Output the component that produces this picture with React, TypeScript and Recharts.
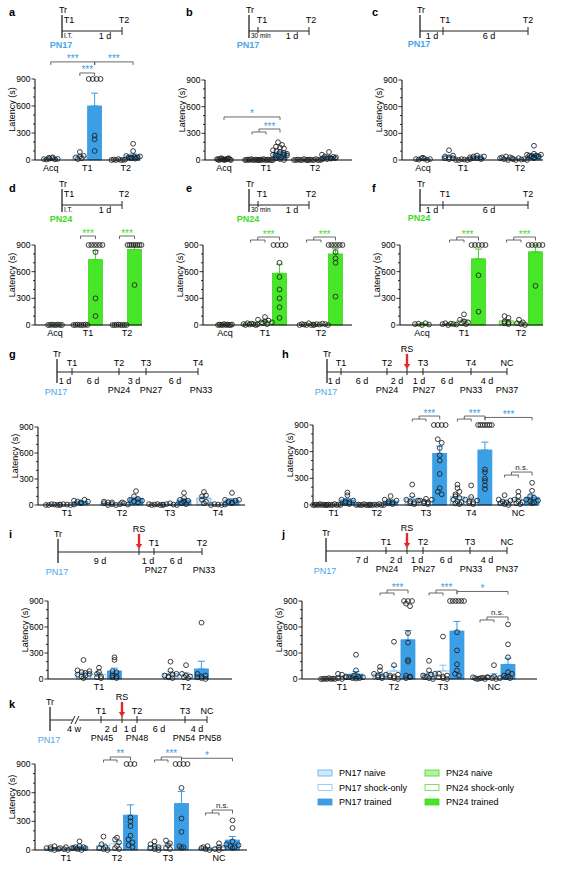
import React from 'react'
import { ComposedChart, Bar, Scatter, XAxis, YAxis, ErrorBar, Cell, ReferenceLine } from 'recharts'

const FONT = '"Liberation Sans", Arial, sans-serif'

// ---- data: latency (s) per animal; rows follow the test order ----
const aTests = ['Acq', 'T1', 'T2']
const aNaive = [null, null, null]
const aShock = [null, [30, 90, 40, 10, 20, 45], [0, 5, 0, 10, 0, 0, 5]]
const aTrained = [[10, 25, 5, 15, 30, 20, 8, 12], [900, 900, 900, 900, 270, 230, 100], [180, 100, 45, 30, 20, 25, 35, 30, 15, 40]]

const bTests = ['Acq', 'T1', 'T2']
const bNaive = [null, [0, 0, 5, 0, 10, 0, 0, 5, 0, 0], [0, 0, 5, 0, 0, 10, 0, 0]]
const bShock = [null, [0, 5, 0, 10, 0, 0, 5, 0, 0, 0], [0, 5, 0, 0, 10, 0, 0, 5]]
const bTrained = [[10, 5, 0, 15, 20, 5, 10, 0, 5, 10, 15, 20, 5, 0], [200, 170, 150, 140, 130, 110, 100, 90, 80, 70, 60, 50, 40, 30, 20, 10, 0, 60, 50], [90, 60, 40, 30, 20, 10, 25, 35, 15, 20, 30]]

const cTests = ['Acq', 'T1', 'T2']
const cNaive = [null, [20, 110, 40, 30, 10, 20, 50], [30, 20, 40, 10, 30, 0, 20]]
const cShock = [null, [0, 0, 10, 5, 0, 10], [10, 0, 20, 5, 10, 0]]
const cTrained = [[10, 5, 20, 15, 0, 10, 25], [20, 30, 40, 50, 20, 30, 10, 40], [160, 60, 50, 40, 30, 50, 40, 60, 70, 20]]

const dTests = ['Acq', 'T1', 'T2']
const dNaive = [null, null, null]
const dShock = [null, [0, 0, 5, 0, 0, 0, 5, 0], [0, 0, 0, 5, 0, 0, 0, 0]]
const dTrained = [[0, 0, 5, 0, 0, 5, 0, 0], [900, 900, 900, 900, 900, 900, 820, 300, 100], [900, 900, 900, 900, 900, 900, 900, 900, 450]]

const eTests = ['Acq', 'T1', 'T2']
const eNaive = [null, [10, 0, 20, 5, 15, 10, 0, 5], [0, 10, 5, 0, 20, 0, 5]]
const eShock = [null, [90, 60, 30, 20, 40, 10, 50, 30], [0, 10, 5, 15, 10, 0]]
const eTrained = [[0, 5, 0, 0, 10, 0, 5, 0, 0, 5], [900, 900, 900, 900, 700, 540, 400, 300, 200, 80], [900, 900, 900, 900, 900, 900, 820, 750, 700, 320]]

const fTests = ['Acq', 'T1', 'T2']
const fNaive = [null, [10, 20, 0, 15, 10, 5], [100, 80, 40, 20, 30, 10]]
const fShock = [null, [120, 60, 40, 30, 20, 10], [60, 20, 10, 30, 0]]
const fTrained = [[10, 15, 0, 20, 5], [900, 900, 900, 900, 900, 560, 150], [900, 900, 900, 900, 900, 440]]

const gTests = ['T1', 'T2', 'T3', 'T4']
const gNaive = [[0, 0, 10, 5, 0, 5], [40, 30, 20, 0, 10, 30], [10, 0, 5, 10, 0, 5], [150, 100, 60, 40, 20, 110]]
const gShock = [[0, 10, 5, 0, 5], [30, 0, 10, 20, 5], [0, 10, 20, 5, 0], [0, 10, 5, 0, 5]]
const gTrained = [[50, 40, 30, 60, 20, 40], [160, 100, 60, 40, 30, 50, 70], [140, 80, 60, 40, 20, 10, 50], [140, 60, 40, 30, 50, 20, 60]]

const hTests = ['T1', 'T2', 'T3', 'T4', 'NC']
const hNaive = [[0, 0, 5, 0, 10, 0, 5, 0, 0], [0, 5, 0, 0, 10, 0, 0, 5], [230, 110, 60, 40, 20, 10, 30, 50], [230, 190, 120, 100, 80, 60, 40, 30, 20, 10, 150], [110, 60, 40, 20, 10, 30, 50, 0]]
const hShock = [[0, 5, 0, 0, 10, 0, 5, 0], [0, 0, 5, 0, 10, 0, 0], [70, 50, 40, 30, 20, 10, 60], [220, 90, 60, 40, 30, 20, 10, 50], [150, 100, 60, 40, 20, 10, 30]]
const hTrained = [[140, 110, 60, 40, 20, 30, 50, 10], [100, 60, 40, 20, 30, 10, 50], [900, 900, 900, 900, 740, 700, 640, 560, 500, 350, 190, 150, 120], [900, 900, 900, 900, 900, 900, 900, 400, 370, 300, 270, 220, 180], [250, 160, 100, 80, 60, 40, 30, 20, 50]]

const iTests = ['T1', 'T2']
const iNaive = [[220, 100, 80, 70, 50, 30, 10, 40, 60, 90], [200, 100, 40, 30, 20, 10, 50, 60]]
const iShock = [[130, 80, 60, 20, 10, 30], [160, 60, 40, 30, 20, 10]]
const iTrained = [[250, 220, 90, 80, 40, 20, 10, 30], [650, 60, 20, 10, 0, 30, 40]]

const jTests = ['T1', 'T2', 'T3', 'NC']
const jNaive = [[0, 0, 5, 0, 10, 0, 5, 0], [140, 100, 60, 40, 30, 20, 10, 50], [210, 100, 40, 30, 20, 10, 0, 50, 60], [20, 10, 0, 5, 10, 15, 0, 20]]
const jShock = [[60, 50, 30, 10, 0, 20], [430, 160, 40, 30, 20, 10, 0, 50], [490, 60, 30, 20, 10, 0, 40], [160, 20, 10, 0, 30, 10]]
const jTrained = [[280, 100, 40, 20, 10, 5, 10, 20, 30], [900, 900, 900, 870, 840, 530, 420, 220, 200, 40, 30, 10, 20], [900, 900, 900, 900, 900, 900, 540, 330, 170, 100, 60, 40], [630, 400, 250, 80, 40, 20, 10, 30, 60]]

const kTests = ['T1', 'T2', 'T3', 'NC']
const kNaive = [[30, 20, 10, 0, 40, 10], [140, 60, 30, 20, 10, 0], [90, 60, 40, 20, 10, 0, 30], [30, 20, 10, 0, 40]]
const kShock = [[30, 20, 10, 0, 20], [130, 110, 80, 40, 20, 10], [100, 70, 50, 20, 10], [70, 30, 10, 0, 20]]
const kTrained = [[90, 30, 20, 10, 0, 40, 30, 20], [900, 900, 900, 340, 300, 250, 150, 110, 80, 50, 30], [900, 900, 900, 900, 650, 330, 190, 40, 20, 30], [310, 230, 90, 60, 40, 30, 20, 50]]

const Y_TICKS = [0, 100, 200, 300, 400, 500, 600, 700, 800, 900]

type Kind = 'naive' | 'shock' | 'trained'
type Grp = (number[] | null)[]
type Ref = [number, Kind]
interface Br { a: Ref; b?: Ref; c: Ref; y: number; text: string }
interface PanelDef {
  tests: string[]; naive: Grp; shock: Grp; trained: Grp
  axisX: number; len: number; y900: number; y0: number; centers: number[]; sp: number
  green?: boolean; brackets?: Br[]
}

const KINDS: Kind[] = ['naive', 'shock', 'trained']
const BAR_W = 14

const PAL = {
  blue: { trained: ['#3c9fe6', '#3a9ae2'], naive: ['#cfe8fb', '#5eb0ee'], shock: ['#ffffff', '#86c6f3'], star: '#3a9de6', errL: '#86c6f3' },
  green: { trained: ['#48e628', '#3fd420'], naive: ['#b2f59c', '#4cd42c'], shock: ['#ffffff', '#62d646'], star: '#3ddc1a', errL: '#62d646' },
}

const panels: PanelDef[] = [
  { tests: aTests, naive: aNaive, shock: aShock, trained: aTrained, axisX: 35, len: 105, y900: 79, y0: 160, centers: [16, 53, 92], sp: 15,
    brackets: [
      { a: [0, 'trained'], c: [1, 'trained'], y: 1090, text: '***' },
      { a: [1, 'trained'], c: [2, 'trained'], y: 1090, text: '***' },
      { a: [1, 'shock'], c: [1, 'trained'], y: 967, text: '***' },
    ] },
  { tests: bTests, naive: bNaive, shock: bShock, trained: bTrained, axisX: 205, len: 147, y900: 80, y0: 160, centers: [19, 61, 110], sp: 14,
    brackets: [
      { a: [0, 'trained'], c: [1, 'trained'], y: 484, text: '*' },
      { a: [1, 'naive'], b: [1, 'shock'], c: [1, 'trained'], y: 315, text: '***' },
    ] },
  { tests: cTests, naive: cNaive, shock: cShock, trained: cTrained, axisX: 402, len: 141, y900: 80, y0: 160, centers: [21, 61, 118], sp: 14 },
  { tests: dTests, naive: dNaive, shock: dShock, trained: dTrained, axisX: 35, len: 107, y900: 245, y0: 325, centers: [20, 53, 92], sp: 15, green: true,
    brackets: [
      { a: [1, 'shock'], c: [1, 'trained'], y: 1001, text: '***' },
      { a: [2, 'shock'], c: [2, 'trained'], y: 1001, text: '***' },
    ] },
  { tests: eTests, naive: eNaive, shock: eShock, trained: eTrained, axisX: 203, len: 149, y900: 245, y0: 325, centers: [22, 62, 118], sp: 14.5, green: true,
    brackets: [
      { a: [1, 'naive'], b: [1, 'shock'], c: [1, 'trained'], y: 956, text: '***' },
      { a: [2, 'naive'], b: [2, 'shock'], c: [2, 'trained'], y: 956, text: '***' },
    ] },
  { tests: fTests, naive: fNaive, shock: fShock, trained: fTrained, axisX: 400, len: 143, y900: 245, y0: 325, centers: [22, 64, 121], sp: 14.5, green: true,
    brackets: [
      { a: [1, 'naive'], b: [1, 'shock'], c: [1, 'trained'], y: 956, text: '***' },
      { a: [2, 'naive'], b: [2, 'shock'], c: [2, 'trained'], y: 956, text: '***' },
    ] },
  { tests: gTests, naive: gNaive, shock: gShock, trained: gTrained, axisX: 38, len: 207, y900: 427, y0: 505, centers: [29, 84, 132, 180], sp: 14 },
  { tests: hTests, naive: hNaive, shock: hShock, trained: hTrained, axisX: 313, len: 225, y900: 425, y0: 505, centers: [21, 65, 115, 161, 209], sp: 14,
    brackets: [
      { a: [2, 'naive'], b: [2, 'shock'], c: [2, 'trained'], y: 967, text: '***' },
      { a: [3, 'naive'], b: [3, 'shock'], c: [3, 'trained'], y: 967, text: '***' },
      { a: [3, 'trained'], c: [4, 'trained'], y: 985, text: '***' },
      { a: [4, 'naive'], b: [4, 'shock'], c: [4, 'trained'], y: 337, text: 'n.s.' },
    ] },
  { tests: iTests, naive: iNaive, shock: iShock, trained: iTrained, axisX: 48, len: 184, y900: 601, y0: 679, centers: [51, 138], sp: 15.5 },
  { tests: jTests, naive: jNaive, shock: jShock, trained: jTrained, axisX: 302, len: 235, y900: 601, y0: 679, centers: [40, 92, 141, 192], sp: 14,
    brackets: [
      { a: [1, 'naive'], b: [1, 'shock'], c: [1, 'trained'], y: 992, text: '***' },
      { a: [2, 'naive'], b: [2, 'shock'], c: [2, 'trained'], y: 992, text: '***' },
      { a: [2, 'trained'], c: [3, 'trained'], y: 1010, text: '*' },
      { a: [3, 'naive'], b: [3, 'shock'], c: [3, 'trained'], y: 681, text: 'n.s.' },
    ] },
  { tests: kTests, naive: kNaive, shock: kShock, trained: kTrained, axisX: 35, len: 212, y900: 764, y0: 850, centers: [31, 82, 133, 184], sp: 13.5,
    brackets: [
      { a: [1, 'naive'], b: [1, 'shock'], c: [1, 'trained'], y: 942, text: '**' },
      { a: [2, 'naive'], b: [2, 'shock'], c: [2, 'trained'], y: 942, text: '***' },
      { a: [2, 'trained'], c: [3, 'trained'], y: 960, text: '*' },
      { a: [3, 'naive'], b: [3, 'shock'], c: [3, 'trained'], y: 387, text: 'n.s.' },
    ] },
]

const mean = (v: number[]) => v.reduce((s, x) => s + x, 0) / v.length
const sem = (v: number[]) => {
  if (v.length < 2) return 0
  const m = mean(v)
  const sd = Math.sqrt(v.reduce((s, x) => s + (x - m) ** 2, 0) / (v.length - 1))
  return sd / Math.sqrt(v.length)
}

function xOf(p: PanelDef, gi: number, k: Kind) {
  const present = KINDS.filter((kk) => p[kk][gi])
  const j = present.indexOf(k)
  return p.centers[gi] + (j - (present.length - 1) / 2) * p.sp
}

// spread points that sit at about the same height side by side
function swarm(vals: number[], cx: number) {
  const bins = new Map<number, number[]>()
  vals.forEach((v, i) => {
    const key = Math.round(v / 45)
    if (!bins.has(key)) bins.set(key, [])
    bins.get(key)!.push(i)
  })
  const out = vals.map((v) => ({ x: cx, y: v }))
  bins.forEach((idx) => {
    const n = idx.length
    const step = n > 1 ? Math.min(4, 14 / (n - 1)) : 0
    idx.forEach((i, j) => { out[i].x = cx + (j - (n - 1) / 2) * step })
  })
  return out
}

const YTick = (props: any) => {
  const { x, y, payload } = props
  const major = payload.value % 300 === 0
  return (
    <g>
      <line x1={x} x2={x - (major ? 3.5 : 2)} y1={y} y2={y} stroke="#000" strokeWidth={0.8} />
      {major && (
        <text x={x - 4.5} y={y} dy="0.35em" textAnchor="end" fontSize={8.5} fontFamily={FONT} fill="#000">{payload.value}</text>
      )}
    </g>
  )
}

const Dot = (props: any) => <circle cx={props.cx} cy={props.cy} r={2.4} fill="none" stroke="#1e1e1e" strokeWidth={0.85} />

// bars on a number axis come back without width, so draw them centred with a fixed width
const BarShape = (props: any) => {
  const { x, y, width, height, fill, stroke } = props
  if (height == null || !isFinite(height)) return null
  const cx = x + (width || 0) / 2
  return <rect x={cx - BAR_W / 2} y={y} width={BAR_W} height={Math.max(height, 0)} fill={fill} stroke={stroke} strokeWidth={0.8} />
}

function BracketMark({ x1, x2, y1, f, nested, text, color }: any) {
  const ns = text === 'n.s.'
  const ln = { fill: 'none', stroke: '#444', strokeWidth: 0.8 }
  const lab = (x: number, y: number) => (
    <text x={x} y={ns ? y - 2 : y + 0.5} textAnchor="middle" fontSize={ns ? 8 : 10} fontFamily={FONT} fill={color}>{text}</text>
  )
  if (!nested) {
    return (
      <g>
        <path d={`M${x1},${y1 + 3} V${y1} H${x2} V${y1 + 3}`} {...ln} />
        {lab((x1 + x2) / 2, y1)}
      </g>
    )
  }
  const xb = x1 + f * (x2 - x1)
  const m = (x1 + xb) / 2
  const yu = y1 - 3
  return (
    <g>
      <path d={`M${x1},${y1 + 2.5} V${y1} H${xb} V${y1 + 2.5}`} {...ln} />
      <path d={`M${m},${y1} V${yu} H${x2} V${y1 + 0.5}`} {...ln} />
      {lab((m + x2) / 2, yu)}
    </g>
  )
}

function Panel({ p }: { p: PanelDef }) {
  const pal = p.green ? PAL.green : PAL.blue
  const bars: any[] = []
  const pts: { x: number; y: number }[] = []
  p.tests.forEach((_, gi) => {
    KINDS.forEach((k) => {
      const vals = p[k][gi]
      if (!vals) return
      const x = xOf(p, gi, k)
      const m = mean(vals)
      const s = sem(vals)
      const e = s >= 1 ? [0, Math.min(s, 900 - m)] : null
      bars.push({ x, mean: m, kind: k, errT: k === 'trained' ? e : null, errL: k !== 'trained' ? e : null })
      pts.push(...swarm(vals, x))
    })
  })
  const H = p.y0 - p.y900
  const MT = 34
  const ML = 30
  const MR = 8
  const XH = 16
  return (
    <div style={{ position: 'absolute', left: p.axisX - ML, top: p.y900 - MT }}>
      <ComposedChart width={ML + p.len + MR} height={MT + H + XH} data={bars} margin={{ top: MT, right: MR, bottom: 0, left: 0 }}>
        <XAxis
          type="number" dataKey="x" domain={[0, p.len]} ticks={p.centers} interval={0}
          tickFormatter={(v: number) => p.tests[p.centers.indexOf(v)] ?? ''}
          height={XH} tickLine={false} tickSize={0} tickMargin={4.5}
          axisLine={{ stroke: '#000', strokeWidth: 1 }}
          tick={{ fontSize: 9, fill: '#000', fontFamily: FONT }}
        />
        <YAxis
          type="number" domain={[0, 900]} ticks={Y_TICKS} interval={0} width={ML}
          tickLine={false} tickSize={0} tickMargin={0} tick={<YTick />}
          axisLine={{ stroke: '#000', strokeWidth: 1 }}
        />
        <Bar dataKey="mean" barSize={BAR_W} isAnimationActive={false} shape={BarShape}>
          {bars.map((b, i) => (
            <Cell key={i} fill={pal[b.kind as Kind][0]} stroke={pal[b.kind as Kind][1]} />
          ))}
          <ErrorBar dataKey="errL" width={3.5} stroke={pal.errL} strokeWidth={1} direction="y" />
          <ErrorBar dataKey="errT" width={3.5} stroke={pal.trained[1]} strokeWidth={1} direction="y" />
        </Bar>
        <Scatter data={pts} dataKey="y" isAnimationActive={false} shape={Dot} />
        {(p.brackets ?? []).map((br, i) => {
          const xa = xOf(p, br.a[0], br.a[1])
          const xc = xOf(p, br.c[0], br.c[1])
          const f = br.b ? (xOf(p, br.b[0], br.b[1]) - xa) / (xc - xa) : 0
          const color = br.text === 'n.s.' ? '#222' : pal.star
          return (
            <ReferenceLine
              key={i}
              segment={[{ x: xa, y: br.y }, { x: xc, y: br.y }]}
              ifOverflow="visible"
              shape={(s: any) => <BracketMark {...s} f={f} nested={!!br.b} text={br.text} color={color} />}
            />
          )
        })}
      </ComposedChart>
    </div>
  )
}

// ---- annotation helpers (timelines, letters, legend) ----
const BLUE_TXT = '#47a6ec'
const GREEN_TXT = '#3ddc1a'

function Tx({ x, y, t, a = 'middle', s = 9, fill = '#000', w = 400 }: any) {
  return <text x={x} y={y} textAnchor={a} fontSize={s} fill={fill} fontWeight={w} fontFamily={FONT}>{t}</text>
}
function Ln({ x1, y1, x2, y2, w = 1 }: any) {
  return <line x1={x1} y1={y1} x2={x2} y2={y2} stroke="#222" strokeWidth={w} />
}
function Arrow({ x, y1, y2 }: any) {
  return (
    <g>
      <line x1={x} x2={x} y1={y1} y2={y2 - 4} stroke="#e5262b" strokeWidth={2.4} />
      <polygon points={`${x - 3.2},${y2 - 5} ${x + 3.2},${y2 - 5} ${x},${y2}`} fill="#e5262b" />
    </g>
  )
}

// short timelines of panels a-f
function ShortTL({ x0, dy, mode, green }: { x0: number; dy: number; mode: 'it' | 'min' | 'day'; green?: boolean }) {
  const pn = green ? 'PN24' : 'PN17'
  const col = green ? GREEN_TXT : BLUE_TXT
  if (mode === 'day') {
    const end = x0 + 108
    const t1 = x0 + 23
    return (
      <g>
        <Tx x={x0 + 1} y={13 + dy} t="Tr" />
        <Ln x1={x0} y1={15 + dy} x2={x0} y2={38 + dy} w={1.3} />
        <Ln x1={x0} y1={31 + dy} x2={end} y2={31 + dy} />
        <Ln x1={t1} y1={27 + dy} x2={t1} y2={35 + dy} />
        <Ln x1={end} y1={27 + dy} x2={end} y2={35 + dy} />
        <Tx x={t1 + 2} y={23 + dy} t="T1" />
        <Tx x={end} y={23 + dy} t="T2" />
        <Tx x={x0 + 12} y={39 + dy} t="1 d" />
        <Tx x={x0 + 69} y={39 + dy} t="6 d" />
        <Tx x={x0 - 1} y={47 + dy} t={pn} fill={col} w={700} />
      </g>
    )
  }
  const end = x0 + 60
  const isIt = mode === 'it'
  return (
    <g>
      <Tx x={x0 + 1} y={13 + dy} t="Tr" />
      <Ln x1={x0} y1={15 + dy} x2={x0} y2={38 + dy} w={1.3} />
      <Ln x1={x0} y1={31 + dy} x2={end} y2={31 + dy} />
      {!isIt && <Ln x1={x0 + 9} y1={27 + dy} x2={x0 + 9} y2={33 + dy} />}
      <Ln x1={end} y1={27 + dy} x2={end} y2={35 + dy} />
      <Tx x={isIt ? x0 + 7 : x0 + 13} y={23 + dy} t="T1" />
      <Tx x={end + 2} y={23 + dy} t="T2" />
      <Tx x={x0 + 2} y={38 + dy} t={isIt ? 'I.T.' : '30 min'} a="start" s={6.5} />
      <Tx x={x0 + 43} y={39 + dy} t="1 d" />
      <Tx x={x0 - 1} y={48 + dy} t={pn} fill={col} w={700} />
    </g>
  )
}

interface TLDef {
  trX: number; lineY: number; endX: number
  ticks: [number, string][]
  below: [number, string][]
  pns: [number, string][]
  rs?: number
  brk?: number
}

const timelines: TLDef[] = [
  { trX: 57, lineY: 372, endX: 198, ticks: [[72, 'T1'], [119, 'T2'], [146, 'T3'], [198, 'T4']],
    below: [[65, '1 d'], [93, '6 d'], [134, '3 d'], [175, '6 d']], pns: [[119, 'PN24'], [151, 'PN27'], [201, 'PN33']] },
  { trX: 327, lineY: 372, endX: 507, ticks: [[341, 'T1'], [387, 'T2'], [407, ''], [423, 'T3'], [471, 'T4'], [507, 'NC']],
    below: [[334, '1 d'], [362, '6 d'], [397, '2 d'], [419, '1 d'], [447, '6 d'], [487, '4 d']],
    pns: [[387, 'PN24'], [424, 'PN27'], [471, 'PN33'], [507, 'PN37']], rs: 407 },
  { trX: 58, lineY: 552, endX: 202, ticks: [[139, ''], [154, 'T1'], [202, 'T2']],
    below: [[100, '9 d'], [148, '1 d'], [176, '6 d']], pns: [[156, 'PN27'], [204, 'PN33']], rs: 139 },
  { trX: 326, lineY: 551, endX: 507, ticks: [[386, 'T1'], [407, ''], [423, 'T2'], [470, 'T3'], [507, 'NC']],
    below: [[362, '7 d'], [396, '2 d'], [417, '1 d'], [446, '6 d'], [487, '4 d']],
    pns: [[387, 'PN24'], [424, 'PN27'], [471, 'PN33'], [507, 'PN37']], rs: 407 },
  { trX: 50, lineY: 720, endX: 207, ticks: [[101, 'T1'], [122, ''], [137, 'T2'], [185, 'T3'], [207, 'NC']],
    below: [[74, '4 w'], [111, '2 d'], [130, '1 d'], [159, '6 d'], [197, '4 d']],
    pns: [[102, 'PN45'], [137, 'PN48'], [184, 'PN54'], [210, 'PN58']], rs: 122, brk: 77 },
]

function LongTL({ d }: { d: TLDef }) {
  const y = d.lineY
  return (
    <g>
      <Tx x={d.trX} y={y - 15} t="Tr" />
      <Ln x1={d.trX} y1={y - 13} x2={d.trX} y2={y + 11} w={1.3} />
      <Ln x1={d.trX} y1={y} x2={d.endX} y2={y} />
      {d.brk !== undefined && (
        <g>
          <rect x={d.brk - 4} y={y - 2} width={6} height={4} fill="#fff" />
          <line x1={d.brk - 6} y1={y + 4} x2={d.brk - 2} y2={y - 4} stroke="#222" strokeWidth={1} />
          <line x1={d.brk - 2} y1={y + 4} x2={d.brk + 2} y2={y - 4} stroke="#222" strokeWidth={1} />
        </g>
      )}
      {d.ticks.map(([x, t], i) => (
        <g key={i}>
          <Ln x1={x} y1={y - 4} x2={x} y2={y + 3} />
          {t && <Tx x={x} y={y - 6} t={t} />}
        </g>
      ))}
      {d.rs !== undefined && (
        <g>
          <Tx x={d.rs} y={y - 20} t="RS" />
          <Arrow x={d.rs} y1={y - 18} y2={y - 3} />
        </g>
      )}
      {d.below.map(([x, t], i) => <Tx key={i} x={x} y={y + 12} t={t} />)}
      {d.pns.map(([x, t], i) => <Tx key={i} x={x} y={y + 21} t={t} />)}
      <Tx x={d.trX - 1} y={y + 23} t="PN17" fill={BLUE_TXT} />
    </g>
  )
}

const letters: [string, number, number][] = [
  ['a', 9, 16], ['b', 186, 16], ['c', 372, 16], ['d', 9, 192], ['e', 186, 192], ['f', 372, 192],
  ['g', 9, 358], ['h', 282, 358], ['i', 9, 538], ['j', 282, 538], ['k', 9, 708],
]

const legendRows: [string, string, string][] = [
  ['PN17 naive', '#cfe8fb', '#5eb0ee'], ['PN17 shock-only', '#ffffff', '#86c6f3'], ['PN17 trained', '#3c9fe6', '#3a9ae2'],
  ['PN24 naive', '#b2f59c', '#4cd42c'], ['PN24 shock-only', '#ffffff', '#62d646'], ['PN24 trained', '#48e628', '#3fd420'],
]

export default function App() {
  return (
    <div style={{ position: 'absolute', left: 0, top: 0, width: 562, height: 880, background: '#fff', overflow: 'hidden' }}>
      <svg width={562} height={880} style={{ position: 'absolute', left: 0, top: 0 }}>
        {letters.map(([l, x, y]) => <Tx key={l} x={x} y={y} t={l} a="start" s={11} w={700} />)}
        <ShortTL x0={62} dy={0} mode="it" />
        <ShortTL x0={249} dy={0} mode="min" />
        <ShortTL x0={420} dy={0} mode="day" />
        <ShortTL x0={62} dy={174} mode="it" green />
        <ShortTL x0={249} dy={174} mode="min" green />
        <ShortTL x0={420} dy={174} mode="day" green />
        {timelines.map((d, i) => <LongTL key={i} d={d} />)}
        {panels.map((p, i) => {
          const cx = p.axisX - 23
          const cy = (p.y900 + p.y0) / 2 - 10
          return (
            <text key={i} x={cx} y={cy} transform={`rotate(-90 ${cx} ${cy})`} textAnchor="middle" dominantBaseline="central" fontSize={9} fontFamily={FONT}>Latency (s)</text>
          )
        })}
        {legendRows.map(([t, fill, stroke], i) => {
          const x = i < 3 ? 318 : 425
          const y = 773 + (i % 3) * 14.5
          return (
            <g key={t}>
              <rect x={x} y={y - 3} width={14} height={6} fill={fill} stroke={stroke} strokeWidth={0.8} />
              <Tx x={x + 21} y={y + 3.2} t={t} a="start" s={9} />
            </g>
          )
        })}
      </svg>
      {panels.map((p, i) => <Panel key={i} p={p} />)}
    </div>
  )
}
